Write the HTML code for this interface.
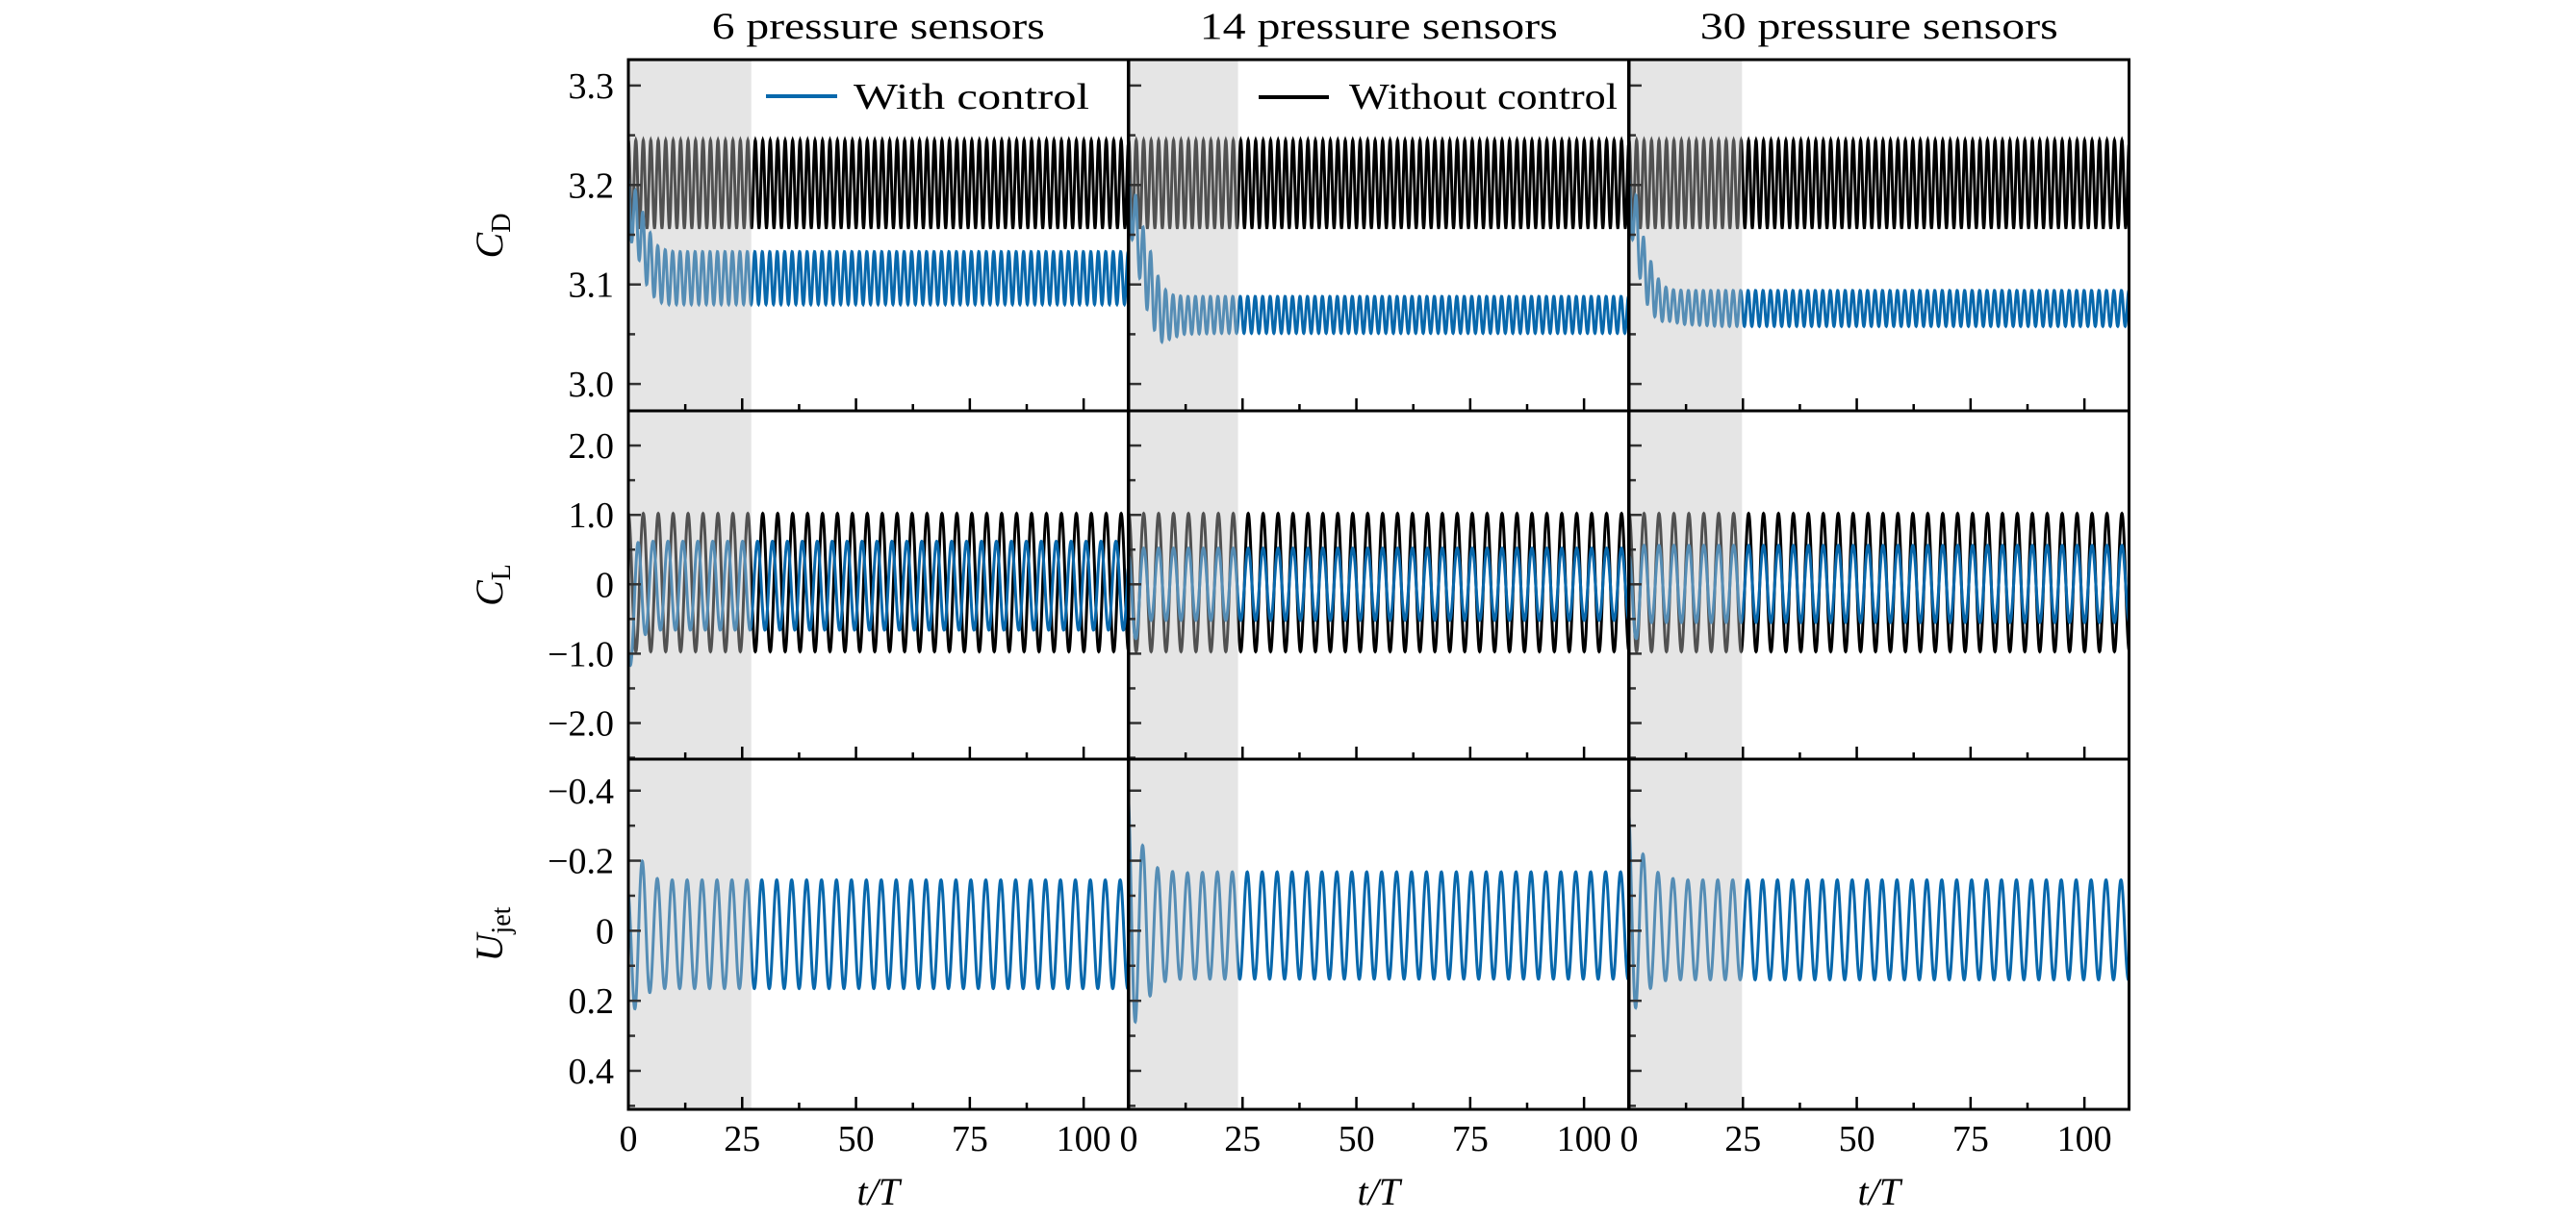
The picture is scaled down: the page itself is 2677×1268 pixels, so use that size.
<!DOCTYPE html>
<html><head><meta charset="utf-8"><style>
html,body{margin:0;padding:0;background:#fff;}
svg{display:block;}
text{font-family:"Liberation Serif","DejaVu Serif",serif;fill:#000;}
</style></head><body>
<svg id="chart" width="2677" height="1268" viewBox="0 0 2677 1268" xmlns="http://www.w3.org/2000/svg"></svg>
<script>
// ---- data ----
const panelTitles = ["6 pressure sensors", "14 pressure sensors", "30 pressure sensors"];
const titleWidths = [346, 372, 372];
const shadeEnds = [27, 24, 24.8];
const xTicks = [0, 25, 50, 75, 100];
const xTickLabels = ["0", "25", "50", "75", "100"];
const cdTicks = [3.0, 3.1, 3.2, 3.3];
const cdTickLabels = ["3.0", "3.1", "3.2", "3.3"];
const clTicks = [-2, -1, 0, 1, 2];
const clTickLabels = ["\u22122.0", "\u22121.0", "0", "1.0", "2.0"];
const ujTicks = [-0.4, -0.2, 0, 0.2, 0.4];
const ujTickLabels = ["\u22120.4", "\u22120.2", "0", "0.2", "0.4"];
const shedPeriod = 3.28; // t/T per lift cycle
const clCtrlPhase = [2.2, 0, 0];

// Without control envelopes (same all panels)
const cdBaseUpper = [3.245, 3.245];
const cdBaseLower = [3.157, 3.157];
const clBaseUpper = [1.02, 1.02];
const clBaseLower = [-0.97, -0.97];
const baseKnots = [0, 110];

// With control envelopes, knots per panel
const ctrlKnots = [
  [0, 2, 4, 6, 8, 10, 14, 20, 110],
  [0, 1.5, 3, 5, 7, 9, 12, 20, 110],
  [0, 1.5, 3, 5, 7, 9, 12, 20, 110]
];
const cdCtrlUpper = [
  [3.21, 3.19, 3.16, 3.14, 3.135, 3.133, 3.133, 3.133, 3.133],
  [3.21, 3.19, 3.16, 3.13, 3.10, 3.09, 3.088, 3.088, 3.088],
  [3.21, 3.19, 3.15, 3.12, 3.10, 3.095, 3.094, 3.094, 3.094]
];
const cdCtrlLower = [
  [3.15, 3.13, 3.10, 3.085, 3.08, 3.08, 3.08, 3.08, 3.08],
  [3.16, 3.13, 3.09, 3.06, 3.042, 3.045, 3.05, 3.051, 3.051],
  [3.16, 3.13, 3.09, 3.07, 3.063, 3.063, 3.06, 3.058, 3.058]
];
const clCtrlUpper = [
  [0.3, 0.6, 0.62, 0.62, 0.62, 0.62, 0.62, 0.62, 0.62],
  [0.4, 0.5, 0.52, 0.52, 0.52, 0.52, 0.52, 0.52, 0.52],
  [0.4, 0.55, 0.56, 0.56, 0.56, 0.56, 0.56, 0.56, 0.56]
];
const clCtrlLower = [
  [-1.25, -0.9, -0.7, -0.66, -0.66, -0.66, -0.66, -0.66, -0.66],
  [-1.4, -0.8, -0.55, -0.52, -0.52, -0.52, -0.52, -0.52, -0.52],
  [-1.35, -0.8, -0.56, -0.55, -0.55, -0.55, -0.55, -0.55, -0.55]
];
const ujCtrlUpper = [
  [-0.12, -0.22, -0.18, -0.15, -0.145, -0.145, -0.145, -0.145, -0.145],
  [-0.39, -0.30, -0.245, -0.20, -0.17, -0.17, -0.165, -0.168, -0.168],
  [-0.35, -0.28, -0.22, -0.18, -0.16, -0.15, -0.145, -0.145, -0.145]
];
const ujCtrlLower = [
  [0.23, 0.22, 0.18, 0.17, 0.165, 0.165, 0.165, 0.165, 0.165],
  [0.26, 0.26, 0.22, 0.18, 0.15, 0.14, 0.138, 0.138, 0.138],
  [0.22, 0.22, 0.19, 0.16, 0.145, 0.14, 0.14, 0.14, 0.14]
];

// ---- layout ----
const NS = "http://www.w3.org/2000/svg";
const svg = document.getElementById("chart");
const panelLeft = [653, 1173, 1693];
const panelW = 519.5;
const xMax = 109.8;
const rows = [
  {top: 62, bottom: 427, min: 2.973, max: 3.326, ticks: cdTicks, labels: cdTickLabels, minor: 0.05, inv: false, name: "cd"},
  {top: 427, bottom: 789, min: -2.52, max: 2.5, ticks: clTicks, labels: clTickLabels, minor: 0.5, inv: false, name: "cl"},
  {top: 789, bottom: 1153, min: -0.49, max: 0.51, ticks: ujTicks, labels: ujTickLabels, minor: 0.1, inv: true, name: "ujet"}
];
function mk(tag, attrs, parent) {
  const e = document.createElementNS(NS, tag);
  for (const k in attrs) e.setAttribute(k, attrs[k]);
  (parent || svg).appendChild(e);
  return e;
}
function xScale(p, t) { return panelLeft[p] + t / xMax * panelW; }
function yScale(r, v) {
  const R = rows[r];
  const f = (v - R.min) / (R.max - R.min);
  return R.inv ? R.top + f * (R.bottom - R.top) : R.bottom - f * (R.bottom - R.top);
}
function interp(knots, vals, t) {
  if (t <= knots[0]) return vals[0];
  for (let i = 1; i < knots.length; i++) {
    if (t <= knots[i]) { const f = (t - knots[i-1]) / (knots[i] - knots[i-1]); return vals[i-1] + f * (vals[i] - vals[i-1]); }
  }
  return vals[vals.length - 1];
}
function signalPath(p, r, knots, up, lo, period, phase) {
  let d = "";
  for (let t = 0; t <= xMax; t += 0.04) {
    const u = interp(knots, up, t), l = interp(knots, lo, t);
    const v = (u + l) / 2 + (u - l) / 2 * Math.cos(2 * Math.PI * t / period + phase);
    d += (d ? "L" : "M") + xScale(p, t).toFixed(2) + "," + yScale(r, v).toFixed(2);
  }
  return d;
}
const blue = "#0868ac";

for (let p = 0; p < 3; p++) {
  const title = mk("text", {x: panelLeft[p] + panelW / 2, y: 40, "text-anchor": "middle", "font-size": 39, textLength: titleWidths[p], lengthAdjust: "spacingAndGlyphs"});
  title.textContent = panelTitles[p];
  
  
  for (let r = 0; r < 3; r++) {
    const R = rows[r];
    const g = mk("g", {});
    
    
    const clipId = "clip" + p + r;
    const cp = mk("clipPath", {id: clipId}, g);
    mk("rect", {x: panelLeft[p], y: R.top, width: panelW, height: R.bottom - R.top}, cp);
    const lines = mk("g", {"clip-path": "url(#" + clipId + ")"}, g);
    if (r < 2) {
      const bu = r === 0 ? cdBaseUpper : clBaseUpper, bl = r === 0 ? cdBaseLower : clBaseLower;
      const per = r === 0 ? shedPeriod / 2 : shedPeriod;
      const pb = mk("path", {d: signalPath(p, r, baseKnots, bu, bl, per, 0), fill: "none", stroke: "#000", "stroke-width": 3}, lines);
      
      
    }
    const cu = [cdCtrlUpper, clCtrlUpper, ujCtrlUpper][r][p];
    const cl = [cdCtrlLower, clCtrlLower, ujCtrlLower][r][p];
    const perC = r === 0 ? shedPeriod / 2 : shedPeriod;
    const ph = r === 1 ? clCtrlPhase[p] : 0.4;
    const pc = mk("path", {d: signalPath(p, r, ctrlKnots[p], cu, cl, perC, ph), fill: "none", stroke: blue, "stroke-width": 3}, lines);
    
    
    const sh = mk("rect", {x: panelLeft[p], y: R.top, width: xScale(p, shadeEnds[p]) - panelLeft[p], height: R.bottom - R.top, fill: "rgb(192,192,192)", "fill-opacity": 0.42}, g);
    
    
    const nMinor = Math.round((R.max - R.min) / R.minor) + 2;
    const start = Math.ceil(R.min / R.minor) * R.minor;
    for (let k = 0; k < nMinor; k++) {
      const v = start + k * R.minor;
      if (v > R.max) break;
      const y = yScale(r, v);
      const isMajor = R.ticks.some(t => Math.abs(t - v) < 1e-6);
      mk("line", {x1: panelLeft[p], x2: panelLeft[p] + (isMajor ? 13 : 7), y1: y, y2: y, stroke: "#333", "stroke-width": 2.5}, g);
    }
    if (p === 0) {
      R.ticks.forEach((v, i) => {
        const t = mk("text", {x: 638, y: yScale(r, v) + 13, "text-anchor": "end", "font-size": 38}, g);
        t.textContent = R.labels[i];
        
        
      });
    }
    for (let k = 0; k * 12.5 <= xMax; k++) {
      const x = xScale(p, k * 12.5);
      const maj = k % 2 === 0;
      mk("line", {x1: x, x2: x, y1: R.bottom, y2: R.bottom - (maj ? 13 : 7), stroke: "#000", "stroke-width": 2.5}, g);
    }
    mk("rect", {x: panelLeft[p], y: R.top, width: panelW, height: R.bottom - R.top, fill: "none", stroke: "#000", "stroke-width": 3}, g);
  }
  xTicks.forEach((v, i) => {
    const t = mk("text", {x: xScale(p, v), y: 1196, "text-anchor": "middle", "font-size": 38});
    t.textContent = xTickLabels[i];
    
    
  });
  const xl = mk("text", {x: panelLeft[p] + panelW / 2, y: 1252, "text-anchor": "middle", "font-size": 40, "font-style": "italic"});
  xl.textContent = 't/T';
  
  
}
const yTitles = [["C", "D", 245], ["C", "L", 608], ["U", "jet", 971]];
yTitles.forEach(a => {
  const t = mk("text", {transform: "translate(522," + a[2] + ") rotate(-90)", "text-anchor": "middle", "font-size": 40});
  t.innerHTML = '<tspan font-style="italic">' + a[0] + '</tspan><tspan font-size="28" dy="8">' + a[1] + '</tspan>';
  
  
});
const lg1 = mk("g", {});


mk("line", {x1: 796, x2: 870, y1: 100, y2: 100, stroke: blue, "stroke-width": 4}, lg1);
const lt1 = mk("text", {x: 887, y: 113, "font-size": 38, textLength: 245, lengthAdjust: "spacingAndGlyphs"}, lg1);
lt1.textContent = "With control";
const lg2 = mk("g", {});


mk("line", {x1: 1308, x2: 1381, y1: 101, y2: 101, stroke: "#000", "stroke-width": 4}, lg2);
const lt2 = mk("text", {x: 1402, y: 113, "font-size": 38, textLength: 279, lengthAdjust: "spacingAndGlyphs"}, lg2);
lt2.textContent = "Without control";
</script>
</body></html>
